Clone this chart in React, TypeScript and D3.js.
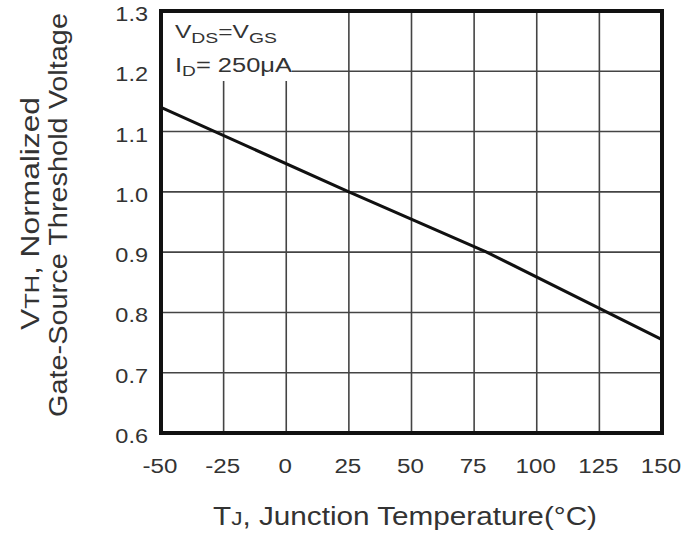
import React from "react";
import * as d3 from "d3";

const xTicks = [-50, -25, 0, 25, 50, 75, 100, 125, 150];
const yTicks = [0.6, 0.7, 0.8, 0.9, 1.0, 1.1, 1.2, 1.3];
const tempC = [-50, 25, 80, 150];
const vthNorm = [1.14, 1.0, 0.9, 0.755];

export default function App() {
  const W = 700, H = 537;
  const L = 161, R = 662, T = 11, B = 433;
  const x = d3.scaleLinear().domain([-50, 150]).range([L, R]);
  const y = d3.scaleLinear().domain([0.6, 1.3]).range([B, T]);
  const line = d3.line<number>().x((_, i) => x(tempC[i])).y((d) => y(d));
  const font = "Liberation Sans, Arial, sans-serif";
  const txt = "#333";
  return (
    <svg width={W} height={H} style={{ position: "absolute", left: 0, top: 0, background: "#fff" }} fontFamily={font}>
      {xTicks.slice(1, -1).map((t) => (
        <line key={"gx" + t} x1={x(t)} x2={x(t)} y1={T} y2={B} stroke="#444" strokeWidth={1.6} />
      ))}
      {yTicks.slice(1, -1).map((t) => (
        <line key={"gy" + t} x1={L} x2={R} y1={y(t)} y2={y(t)} stroke="#444" strokeWidth={1.6} />
      ))}
      <rect x={L + 2} y={T + 2} width={129} height={68} fill="#fff" />
      <text x={175} y={38} fontSize={19} fill={txt} textLength={102} lengthAdjust="spacingAndGlyphs">
        V<tspan fontSize={15} dy={5}>DS</tspan><tspan dy={-5}>=V</tspan><tspan fontSize={15} dy={5}>GS</tspan>
      </text>
      <text x={175} y={72} fontSize={20} fill={txt} textLength={117} lengthAdjust="spacingAndGlyphs">
        I<tspan fontSize={15} dy={4}>D</tspan><tspan dy={-4}>= 250μA</tspan>
      </text>
      <path d={line(vthNorm) || ""} fill="none" stroke="#111" strokeWidth={3} />
      <rect x={L} y={T} width={R - L} height={B - T} fill="none" stroke="#111" strokeWidth={4} />
      {yTicks.map((t) => (
        <g key={"yl" + t} transform={`translate(148,${y(t) + 10}) scale(1.12,1)`}>
          <text textAnchor="end" fontSize={21} fill={txt}>
            {t.toFixed(1)}
          </text>
        </g>
      ))}
      {xTicks.map((t) => (
        <g key={"xl" + t} transform={`translate(${x(t) - 1},473) scale(1.15,1)`}>
          <text textAnchor="middle" fontSize={21} fill={txt}>
            {t}
          </text>
        </g>
      ))}
      <text x={213} y={525} fontSize={25} fill={txt} textLength={384} lengthAdjust="spacingAndGlyphs">
        T<tspan fontSize={19}>J</tspan>, Junction Temperature(°C)
      </text>
      <g transform="translate(0,0) rotate(-90)">
        <text x={-330} y={39} fontSize={25} fill={txt} textLength={233} lengthAdjust="spacingAndGlyphs">
          V<tspan fontSize={20}>TH</tspan>, Normalized
        </text>
        <text x={-417} y={67} fontSize={25} fill={txt} textLength={404} lengthAdjust="spacingAndGlyphs">
          Gate-Source Threshold Voltage
        </text>
      </g>
    </svg>
  );
}
